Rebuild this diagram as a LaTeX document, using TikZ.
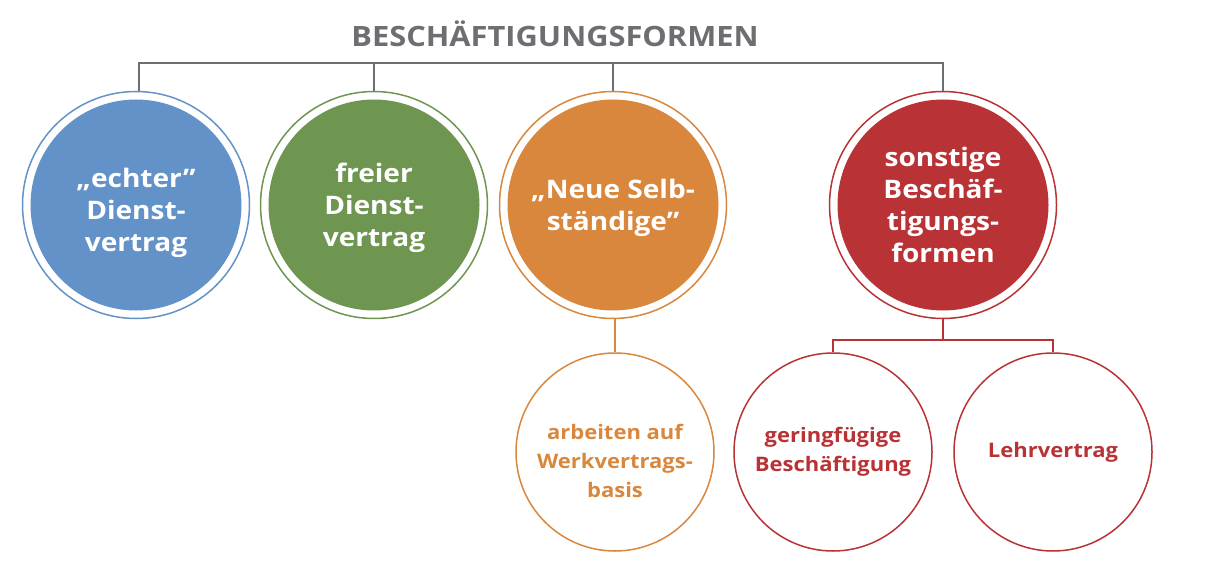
\documentclass[tikz,border=0pt]{standalone}
\usepackage{fontspec}
\setmainfont{Open Sans}[FakeStretch=1.1]
\usetikzlibrary{positioning}
\definecolor{titlegray}{HTML}{6D6E71}
\definecolor{cblue}{HTML}{6292C8}
\definecolor{cgreen}{HTML}{6E9650}
\definecolor{corange}{HTML}{D9873C}
\definecolor{cred}{HTML}{B83236}
\tikzset{
  bigform/.style={circle, inner sep=0pt, minimum size=227pt, draw=#1, line width=1.5pt, fill=white,
    path picture={\fill[#1] (path picture bounding box.center) circle (105.5pt);}},
  formtext/.style={text=white, align=center, font=\fontsize{25.5}{32}\selectfont\bfseries},
  smallform/.style={circle, inner sep=0pt, minimum size=198pt, draw=#1, line width=1.5pt,
    text=#1, align=center, font=\fontsize{20}{29}\selectfont\bfseries},
  conn/.style={line width=1.8pt, draw=#1},
}
\begin{document}
\begin{tikzpicture}[x=1pt,y=-1pt]
\useasboundingbox (0,0) rectangle (1214,580);
\node[font=\fontsize{28}{32}\selectfont\bfseries, text=titlegray] (title) at (555,34) {BESCHÄFTIGUNGSFORMEN};
% the four main forms
\node[bigform=cblue, label={[formtext, yshift=-8pt]center:{„echter”\\Dienst-\\vertrag}}] (echt) at (136,205) {};
\node[bigform=cgreen, label={[formtext, yshift=-3pt]center:{freier\\Dienst-\\vertrag}}] (frei) at (374,205) {};
\node[bigform=corange, label={[formtext, yshift=-3pt]center:{„Neue Selb-\\ständige”}}] (neu) at (613,205) {};
\node[bigform=cred, label={[formtext]center:{sonstige\\Beschäf-\\tigungs-\\formen}}] (sonst) at (943,205) {};
% sub forms
\node[smallform=corange, label={[smallform=corange, draw=none, minimum size=0pt, yshift=-9pt]center:{arbeiten auf\\Werkvertrags-\\basis}}] (werk) at (615,452) {};
\node[smallform=cred] (gering) at (833,452) {geringfügige\\Beschäftigung};
\node[smallform=cred] (lehr) at (1053,452) {Lehrvertrag};
% connectors
\coordinate (bus) at (0,63);
\coordinate (subbus) at (0,340);
\draw[conn=titlegray] ([xshift=3pt]echt.north) |- (sonst.north |- bus) -- (sonst.north);
\draw[conn=titlegray] (frei.north) -- (frei.north |- bus);
\draw[conn=titlegray] (neu.north) -- (neu.north |- bus);
\draw[conn=corange] (werk.north) -- (werk.north |- neu.south);
\draw[conn=cred] (sonst.south) -- (sonst.south |- subbus);
\draw[conn=cred] (gering.north) |- (lehr.north |- subbus) -- (lehr.north);
\end{tikzpicture}
\end{document}
